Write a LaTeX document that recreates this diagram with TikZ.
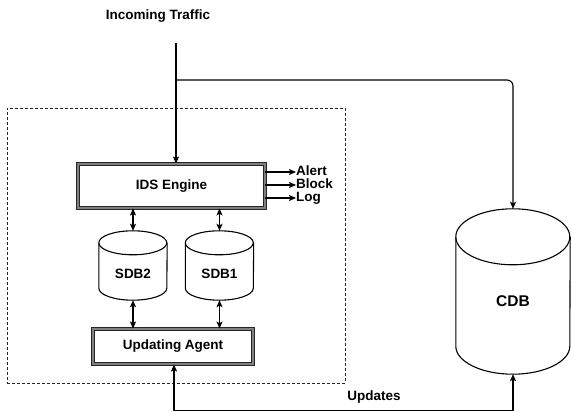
\documentclass[tikz,border=0pt]{standalone}
\usepackage{fontspec}
\setmainfont{Liberation Sans}
\usetikzlibrary{arrows.meta,calc}

% Side walls and visible top rim of a drum-shaped store
\newcommand\drumshape[3]{%
  \draw[dbline] ($(#1.north west)+(0,-#3)$) arc[start angle=180,end angle=-180,x radius=#2,y radius=#3];
  \draw[dbline] ($(#1.north west)+(0,-#3)$) -- ($(#1.south west)+(0,#3)$)
    arc[start angle=180,end angle=360,x radius=#2,y radius=#3] -- ($(#1.north east)+(0,-#3)$);
}

\begin{document}
\begin{tikzpicture}[x=1pt,y=1pt,
  every node/.style={font=\fontsize{13.5}{16}\selectfont\bfseries},
  procbox/.style={draw=black!85, double=black!50, double distance=1.5pt, line width=0.9pt,
                  rectangle, inner sep=0pt},
  dbbox/.style={rectangle, inner sep=0pt},
  dbline/.style={line width=1.1pt},
  ahead/.tip={Stealth[length=7pt,width=6pt,inset=1.5pt]},
  tip/.style={-ahead, line width=1.1pt},
  bitip/.style={ahead-ahead, line width=1.1pt},
  outtext/.style={anchor=west, inner sep=0pt, text height=9.5pt, text depth=2.5pt}
]
\useasboundingbox (0,0) rectangle (572,412);

% Boundary of the local sensor
\node[draw=black!85, dash pattern=on 3pt off 2pt, line width=0.9pt,
      minimum width=338, minimum height=275, inner sep=0pt] (zone) at (176,166.5) {};

% Processing blocks
\node[procbox, minimum width=187, minimum height=44] (ids) at (171.5,226) {IDS Engine};
\node[procbox, minimum width=160, minimum height=35] (agent) at (173,65.5) {Updating Agent};

% Signature stores
\node[dbbox, minimum width=68, minimum height=69] (sdb2) at (133,146.5) {};
\node[dbbox, minimum width=68, minimum height=69] (sdb1) at (219.5,146.5) {};
\node[dbbox, minimum width=114, minimum height=165] (cdb) at (513,120.5) {};
\drumshape{sdb2}{34}{12}
\drumshape{sdb1}{34}{12}
\drumshape{cdb}{57}{28}
\node (sdb2t) at ($(sdb2.center)+(0,-8)$) {SDB2};
\node (sdb1t) at ($(sdb1.center)+(0,-8)$) {SDB1};
\node[font=\fontsize{15.5}{18}\selectfont\bfseries] (cdbt) at ($(cdb.center)+(0,-9.5)$) {CDB};

% Incoming traffic
\node (traffic) at (158,396) {Incoming Traffic};
\coordinate (in) at (176,369);
\coordinate (split) at (176,332);
\draw[tip] (in) -- (in |- ids.north);
\draw[tip, rounded corners=6pt] (split) -- (split -| cdb.north) -- (cdb.north);

% Engine outputs
\node[outtext] (alert) at (296,240) {Alert};
\node[outtext] (block) at (296,227) {Block};
\node[outtext] (logout) at (296,214) {Log};
\draw[tip] (alert.west -| ids.east) -- (alert.west);
\draw[tip] (block.west -| ids.east) -- (block.west);
\draw[tip] (logout.west -| ids.east) -- (logout.west);

% Engine <-> stores <-> agent
\draw[bitip] (sdb2.north |- ids.south) -- (sdb2.north);
\draw[bitip] (sdb1.north |- ids.south) -- (sdb1.north);
\draw[bitip] (sdb2.south) -- (sdb2.south |- agent.north);
\draw[bitip] (sdb1.south) -- (sdb1.south |- agent.north);

% Update channel between the central store and the agent
\draw[bitip] ($(agent.south)+(1,0)$) -- ++(0,-46) -| (cdb.south);
\node (upd) at (374,15) {Updates};
\end{tikzpicture}
\end{document}
